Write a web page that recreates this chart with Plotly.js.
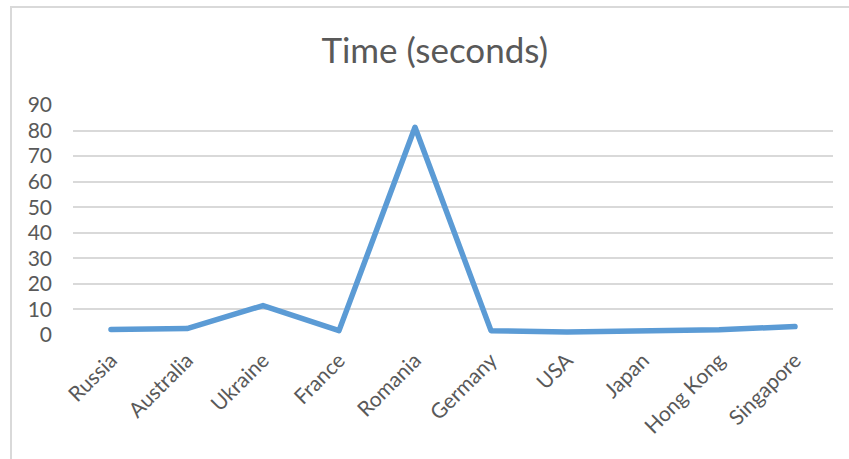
<!DOCTYPE html>
<html>
<head>
<meta charset="utf-8">
<script src="https://cdn.plot.ly/plotly-3.0.1.min.js"></script>
<style>
  html, body { margin: 0; padding: 0; background: #fff; }
  #wrap { position: relative; width: 849px; height: 459px; overflow: hidden; }
  #frame { position: absolute; left: 10px; top: 6px; width: 860px; height: 470px;
           border-left: 2px solid #d9d9d9; border-top: 2px solid #d9d9d9; pointer-events: none; }
  #chart { position: absolute; left: 0; top: 0; width: 849px; height: 459px; }
  .js-line { stroke-linejoin: round !important; stroke-linecap: round !important; }
</style>
</head>
<body>
<div id="wrap">
  <div id="chart"></div>
  <div id="frame"></div>
</div>
<script>
const categories = ["Russia", "Australia", "Ukraine", "France", "Romania", "Germany", "USA", "Japan", "Hong Kong", "Singapore"];
const timeSeconds = [2.2, 2.5, 11.5, 1.7, 81.3, 1.7, 1.2, 1.8, 2.1, 3.3];
const yTicks = [0, 10, 20, 30, 40, 50, 60, 70, 80, 90];
const chartTitle = "Time (seconds)";

const trace = {
  type: "scatter",
  mode: "lines",
  x: categories,
  y: timeSeconds,
  line: { color: "#5b9bd5", width: 5.5 },
  hoverinfo: "x+y"
};

const layout = {
  width: 849,
  height: 459,
  margin: { l: 73, r: 16, t: 105, b: 124 },
  paper_bgcolor: "rgba(0,0,0,0)",
  plot_bgcolor: "rgba(0,0,0,0)",
  font: { family: "Lato, 'Open Sans', sans-serif", color: "#595959" },
  title: {
    text: chartTitle,
    font: { size: 35, color: "#595959", family: "Lato, 'Open Sans', sans-serif" },
    xref: "container", x: 0.512, xanchor: "center",
    yref: "container", y: 0.889, yanchor: "middle"
  },
  showlegend: false,
  xaxis: {
    type: "category",
    range: [-0.5, categories.length - 0.5],
    tickangle: -45,
    showgrid: false,
    zeroline: false,
    showline: false,
    ticks: "",
    ticklabelstandoff: 8,
    tickfont: { size: 21, color: "#595959" }
  },
  yaxis: {
    range: [0, 90],
    tickvals: yTicks,
    ticktext: yTicks.map(String),
    showgrid: true,
    gridcolor: "#d9d9d9",
    gridwidth: 2,
    zeroline: false,
    showline: false,
    ticks: "",
    ticklabelstandoff: 20,
    tickfont: { size: 21, color: "#595959" }
  }
};

Plotly.newPlot("chart", [trace], layout, { displayModeBar: false, staticPlot: true });
</script>
</body>
</html>
